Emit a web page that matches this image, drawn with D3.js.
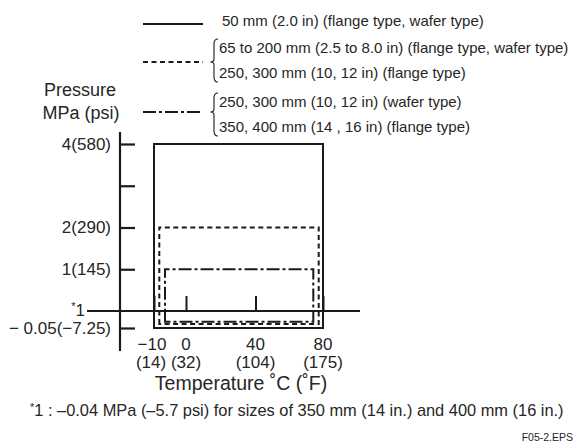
<!DOCTYPE html>
<html>
<head>
<meta charset="utf-8">
<script src="https://cdn.jsdelivr.net/npm/d3@7"></script>
<style>
  html, body { margin: 0; padding: 0; background: #fff; }
  svg { display: block; }
  text { font-family: "Liberation Sans Narrow", "Arial Narrow", "Liberation Sans", sans-serif; fill: #262626; }
</style>
</head>
<body>
<div id="chart"></div>
<script>
// ---------- data ----------
const seriesNames = ["50 mm", "65-300 mm", "250-400 mm"];
const tempMin = [-10, -10, -10];
const tempMax = [80, 80, 80];
const pressMax = [4, 2, 1];
const pressMin = [-0.05, -0.05, -0.05];

const legendLabels = [
  ["50 mm (2.0 in) (flange type, wafer type)"],
  ["65 to 200 mm (2.5 to 8.0 in) (flange type, wafer type)", "250, 300 mm (10, 12 in) (flange type)"],
  ["250, 300 mm (10, 12 in) (wafer type)", "350, 400 mm (14 , 16 in) (flange type)"]
];

const yTickValues = [-0.05, 1, 2, 3, 4];
const yTickLabels = ["\u2212 0.05(\u22127.25)", "1(145)", "2(290)", "", "4(580)"];
const xTickValues = [-10, 0, 40, 80];
const xTickLabelsC = ["\u221210", "0", "40", "80"];
const xTickLabelsF = ["(14)", "(32)", "(104)", "(175)"];

// ---------- styles ----------
const dashes = [null, "5,3.5", "13,3,3,3"];
const insetX = [[0, 0], [5.3, 4.3], [11, 9.7]];
const insetBottom = [0, 4, 6.3];
const ink = "#1a1a1a";

const W = 575, H = 448;
const svg = d3.select("#chart").append("svg").attr("width", W).attr("height", H);

// schematic (piecewise) scales
const y = d3.scaleLinear().domain([-0.05, 0, 4]).range([328, 311, 144]);
const x = d3.scaleLinear().domain([-10, 0, 40, 80]).range([154, 186, 255.5, 323]);

// ---------- legend ----------
const legendY = [24, 62, 112];
const legendTextY = [[26], [53, 78], [107, 132]];
legendLabels.forEach((lines, i) => {
  const g = svg.append("g");
  g.append("line").attr("x1", 143).attr("x2", 203).attr("y1", legendY[i]).attr("y2", legendY[i])
    .attr("stroke", ink).attr("stroke-width", 2).attr("stroke-dasharray", dashes[i]);
  if (lines.length > 1) {
    const bx = 214, y0 = legendTextY[i][0] - 14, y1 = legendTextY[i][1] + 4, m = legendY[i];
    g.append("path")
      .attr("d", `M${bx + 4},${y0} Q${bx},${y0} ${bx},${y0 + 5} L${bx},${m - 3} Q${bx},${m} ${bx - 3.5},${m} Q${bx},${m} ${bx},${m + 3} L${bx},${y1 - 5} Q${bx},${y1} ${bx + 4},${y1}`)
      .attr("fill", "none").attr("stroke", ink).attr("stroke-width", 1.1);
  }
  lines.forEach((t, j) => {
    g.append("text").attr("x", lines.length > 1 ? 219 : 222).attr("y", legendTextY[i][j])
      .attr("font-size", 15).text(t);
  });
});

// ---------- axis titles ----------
svg.append("text").attr("x", 80).attr("y", 96).attr("text-anchor", "middle").attr("font-size", 18).text("Pressure");
svg.append("text").attr("x", 81).attr("y", 119).attr("text-anchor", "middle").attr("font-size", 18).text("MPa (psi)");

// ---------- y axis ----------
svg.append("line").attr("x1", 120).attr("x2", 120).attr("y1", 132).attr("y2", 351)
  .attr("stroke", ink).attr("stroke-width", 2.2);
const yAxis = svg.append("g").attr("transform", "translate(120,0)")
  .call(d3.axisRight(y).tickValues(yTickValues).tickSize(15).tickFormat(""));
yAxis.select(".domain").remove();
yAxis.selectAll(".tick line").attr("stroke", ink).attr("stroke-width", 2.2);
svg.selectAll(".ytl").data(yTickValues).join("text").attr("class", "ytl")
  .attr("x", 111).attr("y", d => y(d)).attr("dy", "0.35em").attr("text-anchor", "end")
  .attr("font-size", 17).text((d, i) => yTickLabels[i]);

// zero line and footnote marker
svg.append("line").attr("x1", 87).attr("x2", 360).attr("y1", y(0)).attr("y2", y(0))
  .attr("stroke", ink).attr("stroke-width", 2);
const star = svg.append("text").attr("x", 85).attr("y", y(0) + 5).attr("text-anchor", "end").attr("font-size", 17);
star.append("tspan").attr("font-size", 11).attr("dy", -6).text("*");
star.append("tspan").attr("dy", 6).text("1");

// ---------- x axis ticks ----------
const xAxis = svg.append("g").attr("transform", `translate(0,${y(0)})`)
  .call(d3.axisTop(x).tickValues(xTickValues).tickSize(15).tickFormat(""));
xAxis.select(".domain").remove();
xAxis.selectAll(".tick line").attr("stroke", ink).attr("stroke-width", 2);

svg.selectAll(".xtc").data(xTickValues).join("text").attr("class", "xtc")
  .attr("x", d => x(d) - (d < 0 ? 2 : 0)).attr("y", 350).attr("text-anchor", "middle")
  .attr("font-size", 17).text((d, i) => xTickLabelsC[i]);
svg.selectAll(".xtf").data(xTickValues).join("text").attr("class", "xtf")
  .attr("x", d => x(d) - (d < 0 ? 3 : 0)).attr("y", 368).attr("text-anchor", "middle")
  .attr("font-size", 17).text((d, i) => xTickLabelsF[i]);
svg.append("text").attr("x", 241).attr("y", 390).attr("text-anchor", "middle").attr("font-size", 19.5)
  .text("Temperature  \u02DAC (\u02DAF)");

// ---------- operating ranges ----------
seriesNames.forEach((n, i) => {
  const x0 = x(tempMin[i]) + insetX[i][0], x1 = x(tempMax[i]) - insetX[i][1];
  const yt = y(pressMax[i]), yb = y(pressMin[i]) - insetBottom[i];
  svg.append("path").attr("d", `M${x0},${yb} L${x0},${yt} L${x1},${yt} L${x1},${yb} Z`)
    .attr("fill", "none").attr("stroke", ink).attr("stroke-width", 2)
    .attr("stroke-dasharray", dashes[i]);
});

// ---------- footnote ----------
const fn = svg.append("text").attr("x", 30).attr("y", 416).attr("font-size", 16.4);
fn.append("tspan").attr("font-size", 11).attr("dy", -5).text("*");
fn.append("tspan").attr("dy", 5).text("1 : \u20130.04 MPa (\u20135.7 psi) for sizes of 350 mm (14 in.) and 400 mm (16 in.)");
svg.append("text").attr("x", 573).attr("y", 441).attr("text-anchor", "end").attr("font-size", 10.5).text("F05-2.EPS");
</script>
</body>
</html>
